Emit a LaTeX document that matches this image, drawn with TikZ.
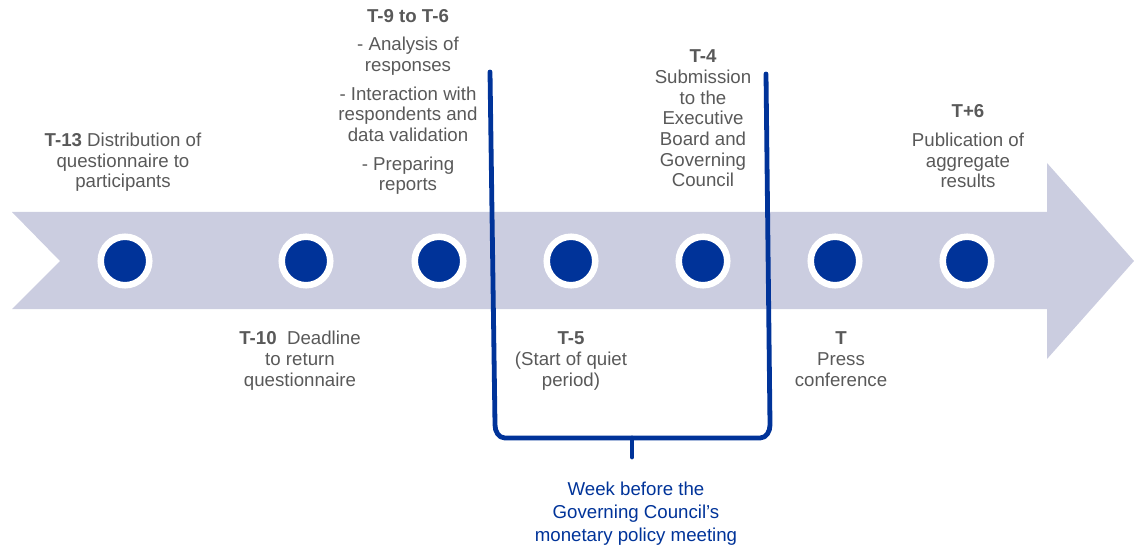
\documentclass[tikz,border=0pt]{standalone}
\usepackage{fontspec}
\setmainfont{Liberation Sans}
\definecolor{bodycol}{RGB}{203,205,224}
\definecolor{dotblue}{RGB}{0,51,153}
\definecolor{txtgray}{RGB}{89,89,89}
\tikzset{
  dotnode/.style={circle, fill=dotblue, draw=white, line width=4.9pt, minimum size=36.4pt, inner sep=0pt},
  lbl/.style={anchor=base, align=center, inner sep=0pt, text=txtgray, font=\fontsize{14}{15.5}\selectfont},
  bluelbl/.style={anchor=base, align=center, inner sep=0pt, text=dotblue, font=\fontsize{14}{16.9}\selectfont},
  bracketline/.style={draw=dotblue, line width=3.6pt, line cap=round, line join=round}
}
\begin{document}
\begin{tikzpicture}[x=0.75pt, y=-0.75pt]
\useasboundingbox (0,0) rectangle (1134,545);
% timeline arrow
\fill[bodycol] (12,212) -- (1047,212) -- (1047,163) -- (1134,261) -- (1047,359) -- (1047,309) -- (12,309) -- (60,261) -- cycle;
% dots
\node[dotnode] (d1) at (125,261) {};
\node[dotnode] (d2) at (306,261) {};
\node[dotnode] (d3) at (439,261) {};
\node[dotnode] (d4) at (571,261) {};
\node[dotnode] (d5) at (703,261) {};
\node[dotnode] (d6) at (835,261) {};
\node[dotnode] (d7) at (967,261) {};
% bracket
\coordinate (lt) at (490,72);
\coordinate (lb) at (495,425);
\coordinate (rt) at (766,74);
\coordinate (rb) at (770,425);
\coordinate (mid) at (632,438);
\coordinate (tick) at (632,457);
\draw[bracketline] (lt) -- (lb) to[out=-90,in=180] (505,438) -- (760,438) to[out=0,in=-90] (rb) -- (rt);
\draw[bracketline] (mid) -- (tick);
% labels (anchor = baseline of last line)
\node[lbl] (t13) at (123,188) {\textbf{T-13} Distribution of\\questionnaire to\\participants};
\node[lbl] (t10) at (300,386) {\textbf{T-10}\ \ Deadline\\to return\\questionnaire};
\node[lbl] (t96) at (408,191) {\textbf{T-9 to T-6}\\[6.2pt]- Analysis of\\responses\\[5.8pt]- Interaction with\\respondents and\\data validation\\[6.2pt]- Preparing\\reports};
\node[lbl] (t5) at (571,386) {\textbf{T-5}\\(Start of quiet\\period)};
\node[lbl] (t4) at (703,187) {\textbf{T-4}\\Submission\\to the\\Executive\\Board and\\Governing\\Council};
\node[lbl] (t0) at (841,386) {\textbf{T}\\Press\\conference};
\node[lbl] (t6) at (968,188) {\textbf{T+6}\\[6.2pt]Publication of\\aggregate\\results};
\node[bluelbl] (week) at (636,541) {Week before the\\Governing Council’s\\monetary policy meeting};
\end{tikzpicture}
\end{document}
